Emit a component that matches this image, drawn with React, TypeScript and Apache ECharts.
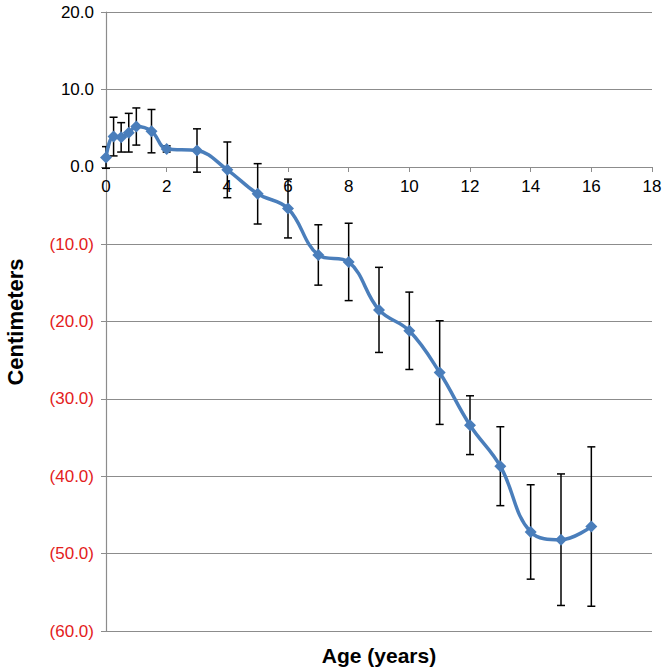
import React, { useEffect, useRef } from "react";
import * as echarts from "echarts";

const ages = [0, 0.25, 0.5, 0.75, 1, 1.5, 2, 3, 4, 5, 6, 7, 8, 9, 10, 11, 12, 13, 14, 15, 16];
const means = [1.2, 3.9, 3.8, 4.4, 5.2, 4.6, 2.3, 2.1, -0.4, -3.5, -5.4, -11.4, -12.3, -18.5, -21.2, -26.6, -33.4, -38.7, -47.2, -48.2, -46.5];
const errors = [1.4, 2.5, 1.9, 2.5, 2.4, 2.8, 0.4, 2.8, 3.6, 3.9, 3.8, 3.9, 5.0, 5.5, 5.0, 6.7, 3.8, 5.1, 6.1, 8.5, 10.3];

const xAxisName = "Age (years)";
const yAxisName = "Centimeters";

export default function App() {
  const ref = useRef<HTMLDivElement>(null);
  useEffect(() => {
    if (!ref.current) return;
    const chart = echarts.init(ref.current, undefined, { renderer: "svg" });
    const lineData = ages.map((a, i) => [a, means[i]]);
    const errData = ages.map((a, i) => [a, means[i] - errors[i], means[i] + errors[i]]);
    const font = "Liberation Sans, Arial, Helvetica, sans-serif";
    chart.setOption({
      animation: false,
      backgroundColor: "#ffffff",
      grid: { left: 106, right: 15, top: 12, bottom: 36, containLabel: false },
      xAxis: {
        type: "value",
        position: "bottom",
        offset: -464,
        min: 0,
        max: 18,
        interval: 2,
        axisLine: { show: true, onZero: false, lineStyle: { color: "#8c8c8c", width: 1.2 } },
        axisTick: { show: true, inside: false, length: 5, lineStyle: { color: "#8c8c8c" } },
        axisLabel: { color: "#000", fontSize: 17, fontFamily: font, margin: 11 },
        splitLine: { show: false },
      },
      yAxis: {
        type: "value",
        min: -60,
        max: 20,
        interval: 10,
        axisLine: { show: true, onZero: false, lineStyle: { color: "#8c8c8c", width: 1.2 } },
        axisTick: { show: true, length: 5, lineStyle: { color: "#8c8c8c" } },
        axisLabel: {
          fontSize: 17,
          fontFamily: font,
          margin: 12,
          formatter: (v: number) => (v < 0 ? `(${(-v).toFixed(1)})` : v.toFixed(1)),
          color: (v: any) => (Number(v) < 0 ? "#e3201b" : "#000000"),
        },
        splitLine: { show: true, lineStyle: { color: "#8c8c8c", width: 1.2 } },
      },
      graphic: [
        {
          type: "text",
          x: 15,
          y: 322,
          rotation: Math.PI / 2,
          style: {
            text: yAxisName,
            fontSize: 22,
            fontWeight: "bold",
            fontFamily: font,
            fill: "#000",
            align: "center",
            verticalAlign: "middle",
          },
        },
        {
          type: "text",
          x: 379,
          y: 655,
          style: {
            text: xAxisName,
            fontSize: 21,
            fontWeight: "bold",
            fontFamily: font,
            fill: "#000",
            align: "center",
            verticalAlign: "middle",
          },
        },
      ],
      series: [
        {
          type: "custom",
          z: 1,
          data: errData,
          encode: { x: 0, y: [1, 2] },
          renderItem: (params: any, api: any) => {
            const x = api.value(0);
            const lo = api.coord([x, api.value(1)]);
            const hi = api.coord([x, api.value(2)]);
            const w = 4;
            const style = { stroke: "#000", lineWidth: 1.5 };
            return {
              type: "group",
              children: [
                { type: "line", shape: { x1: lo[0], y1: lo[1], x2: hi[0], y2: hi[1] }, style },
                { type: "line", shape: { x1: lo[0] - w, y1: lo[1], x2: lo[0] + w, y2: lo[1] }, style },
                { type: "line", shape: { x1: hi[0] - w, y1: hi[1], x2: hi[0] + w, y2: hi[1] }, style },
              ],
            };
          },
        },
        {
          type: "line",
          z: 3,
          data: lineData,
          smooth: 0.4,
          symbol: "diamond",
          symbolSize: 12,
          lineStyle: { color: "#4a7ebb", width: 3.5 },
          itemStyle: { color: "#4a7ebb" },
        },
      ],
    });
    return () => chart.dispose();
  }, []);
  return <div ref={ref} style={{ position: "fixed", left: 0, top: 0, width: 667, height: 667 }} />;
}
